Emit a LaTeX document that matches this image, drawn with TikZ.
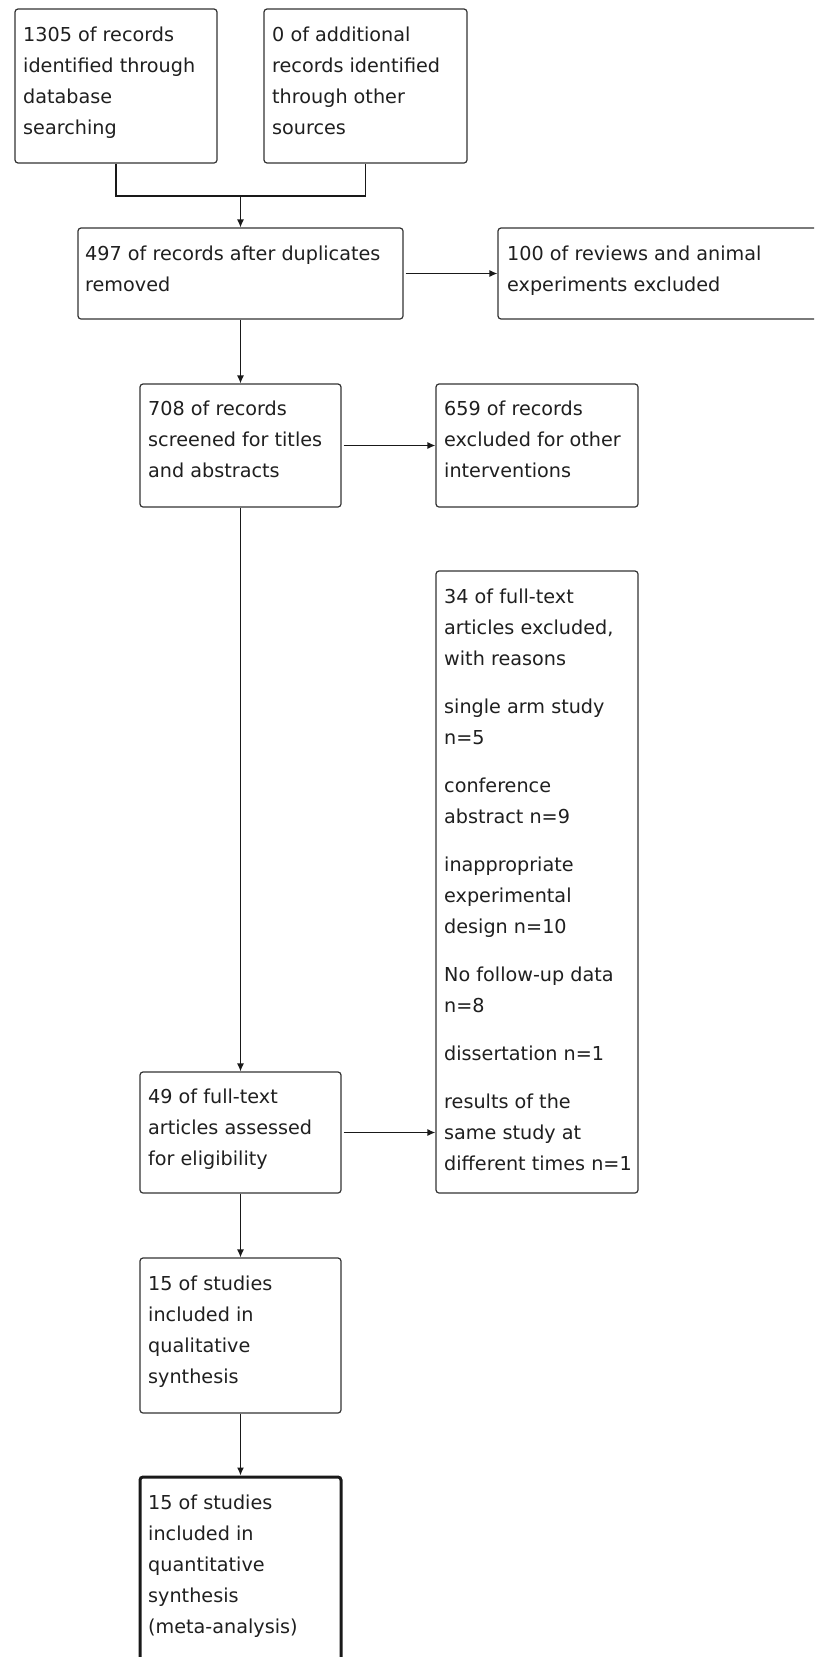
\documentclass[tikz,border=0pt]{standalone}
\usepackage{fontspec}
\setmainfont{DejaVu Sans}
\usetikzlibrary{arrows.meta}
\newcommand\fs{\fontsize{19.2pt}{31pt}\selectfont}
\newcommand\tx[1]{\parbox[t]{340pt}{\raggedright\fs #1}}
\tikzset{
  box/.style={draw=black!80, line width=1.2pt, rounded corners=3pt, inner sep=0pt, fill=white},
  thickbox/.style={box, line width=3pt, draw=black!90},
  txt/.style={anchor=base west, inner sep=0pt, text=black!88},
  arr/.style={draw=black!90, line width=1.3pt, -{Latex[length=8pt,width=7pt]}},
  conn/.style={draw=black!90, line width=1.3pt}
}
\begin{document}
\begin{tikzpicture}[x=1pt,y=-1pt]
\useasboundingbox (0,0) rectangle (814,1657);
\clip (0,0) rectangle (814,1657);
\fill[white] (0,0) rectangle (814,1657);
% boxes
\node[box, minimum width=202pt, minimum height=154pt] (A) at (116,86) {};
\node[box, minimum width=203pt, minimum height=154pt] (B) at (365.5,86) {};
\node[box, minimum width=325pt, minimum height=91pt] (C) at (240.5,273.5) {};
\node[box, minimum width=362pt, minimum height=91pt] (D) at (679,273.5) {};
\node[box, minimum width=201pt, minimum height=123pt] (E) at (240.5,445.5) {};
\node[box, minimum width=202pt, minimum height=123pt] (F) at (537,445.5) {};
\node[box, minimum width=202pt, minimum height=622pt] (H) at (537,882) {};
\node[box, minimum width=201pt, minimum height=121pt] (G) at (240.5,1132.5) {};
\node[box, minimum width=201pt, minimum height=155pt] (I) at (240.5,1335.5) {};
\node[thickbox, minimum width=201pt, minimum height=223pt] (J) at (240.5,1588.5) {};
% texts
\node[txt] (At) at (23,41) {\tx{1305 of records\\identified through\\database\\searching}};
\node[txt] (Bt) at (272,41) {\tx{0 of additional\\records identified\\through other\\sources}};
\node[txt] (Ct) at (85,260) {\tx{497 of records after duplicates\\removed}};
\node[txt] (Dt) at (507,260) {\tx{100 of reviews and animal\\experiments excluded}};
\node[txt] (Et) at (148,415) {\tx{708 of records\\screened for titles\\and abstracts}};
\node[txt] (Ft) at (444,415) {\tx{659 of records\\excluded for other\\interventions}};
\node[txt] (Ht) at (444,603) {\tx{34 of full-text\\articles excluded,\\with reasons\\[17pt]single arm study\\n=5\\[17pt]conference\\abstract n=9\\[17pt]inappropriate\\experimental\\design n=10\\[17pt]No follow-up data\\n=8\\[17pt]dissertation n=1\\[17pt]results of the\\same study at\\different times n=1}};
\node[txt] (Gt) at (148,1103) {\tx{49 of full-text\\articles assessed\\for eligibility}};
\node[txt] (It) at (148,1290) {\tx{15 of studies\\included in\\qualitative\\synthesis}};
\node[txt] (Jt) at (148,1509) {\tx{15 of studies\\included in\\quantitative\\synthesis\\(meta-analysis)}};
% connectors
\coordinate (j) at (240.5,196);
\draw[conn] (A.south) |- (j) -| (B.south);
\draw[arr] (j) -- (j |- C.north);
\draw[arr, shorten <=2pt] (C.east) -- (C.east -| D.west);
\draw[arr] (C.south) -- (E.north);
\draw[arr, shorten <=2pt] (E.east) -- (E.east -| F.west);
\draw[arr] (E.south) -- (G.north);
\draw[arr, shorten <=2pt] (G.east) -- (G.east -| H.west);
\draw[arr] (G.south) -- (I.north);
\draw[arr] (I.south) -- (J.north);
\end{tikzpicture}
\end{document}
